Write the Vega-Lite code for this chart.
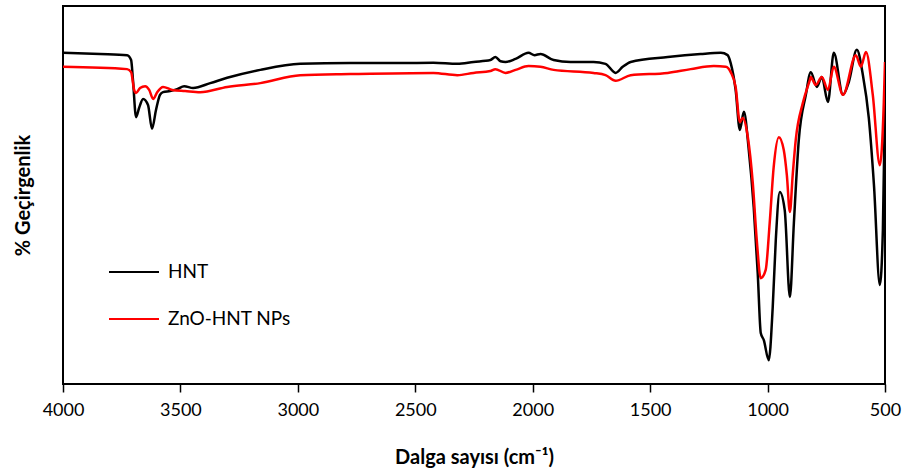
{
  "$schema": "https://vega.github.io/schema/vega-lite/v6.json",
  "width": 822,
  "height": 378,
  "autosize": {"type": "none"},
  "padding": {"left": 63, "top": 6, "right": 22, "bottom": 90},
  "config": {
    "view": {"stroke": "black", "strokeWidth": 2},
    "font": "Lato",
    "axis": {"grid": false}
  },
  "data": {
    "values": [
      {"wn": 4000, "T": 87.6, "s": "HNT"},
      {"wn": 3842, "T": 87.3, "s": "HNT"},
      {"wn": 3727, "T": 87.0, "s": "HNT"},
      {"wn": 3710, "T": 85.7, "s": "HNT"},
      {"wn": 3702, "T": 80.4, "s": "HNT"},
      {"wn": 3689, "T": 70.6, "s": "HNT"},
      {"wn": 3676, "T": 73.0, "s": "HNT"},
      {"wn": 3659, "T": 75.4, "s": "HNT"},
      {"wn": 3638, "T": 73.8, "s": "HNT"},
      {"wn": 3621, "T": 67.5, "s": "HNT"},
      {"wn": 3604, "T": 72.5, "s": "HNT"},
      {"wn": 3587, "T": 76.5, "s": "HNT"},
      {"wn": 3574, "T": 77.2, "s": "HNT"},
      {"wn": 3544, "T": 77.5, "s": "HNT"},
      {"wn": 3514, "T": 78.0, "s": "HNT"},
      {"wn": 3484, "T": 78.8, "s": "HNT"},
      {"wn": 3446, "T": 78.3, "s": "HNT"},
      {"wn": 3373, "T": 79.6, "s": "HNT"},
      {"wn": 3301, "T": 81.0, "s": "HNT"},
      {"wn": 3160, "T": 83.1, "s": "HNT"},
      {"wn": 2990, "T": 84.7, "s": "HNT"},
      {"wn": 2777, "T": 84.9, "s": "HNT"},
      {"wn": 2564, "T": 84.9, "s": "HNT"},
      {"wn": 2423, "T": 85.0, "s": "HNT"},
      {"wn": 2321, "T": 84.7, "s": "HNT"},
      {"wn": 2252, "T": 85.2, "s": "HNT"},
      {"wn": 2180, "T": 85.7, "s": "HNT"},
      {"wn": 2159, "T": 86.5, "s": "HNT"},
      {"wn": 2137, "T": 85.4, "s": "HNT"},
      {"wn": 2116, "T": 85.2, "s": "HNT"},
      {"wn": 2073, "T": 86.0, "s": "HNT"},
      {"wn": 2018, "T": 87.6, "s": "HNT"},
      {"wn": 1992, "T": 87.0, "s": "HNT"},
      {"wn": 1967, "T": 87.3, "s": "HNT"},
      {"wn": 1911, "T": 85.7, "s": "HNT"},
      {"wn": 1839, "T": 85.2, "s": "HNT"},
      {"wn": 1741, "T": 85.2, "s": "HNT"},
      {"wn": 1690, "T": 84.7, "s": "HNT"},
      {"wn": 1647, "T": 82.3, "s": "HNT"},
      {"wn": 1617, "T": 83.9, "s": "HNT"},
      {"wn": 1583, "T": 85.2, "s": "HNT"},
      {"wn": 1425, "T": 86.5, "s": "HNT"},
      {"wn": 1285, "T": 87.3, "s": "HNT"},
      {"wn": 1199, "T": 87.6, "s": "HNT"},
      {"wn": 1170, "T": 87.0, "s": "HNT"},
      {"wn": 1157, "T": 84.9, "s": "HNT"},
      {"wn": 1136, "T": 77.8, "s": "HNT"},
      {"wn": 1118, "T": 67.2, "s": "HNT"},
      {"wn": 1101, "T": 72.0, "s": "HNT"},
      {"wn": 1080, "T": 61.9, "s": "HNT"},
      {"wn": 1059, "T": 46.8, "s": "HNT"},
      {"wn": 1042, "T": 29.4, "s": "HNT"},
      {"wn": 1029, "T": 13.5, "s": "HNT"},
      {"wn": 1016, "T": 11.6, "s": "HNT"},
      {"wn": 995, "T": 6.3, "s": "HNT"},
      {"wn": 978, "T": 20.4, "s": "HNT"},
      {"wn": 965, "T": 38.1, "s": "HNT"},
      {"wn": 948, "T": 50.8, "s": "HNT"},
      {"wn": 927, "T": 46.0, "s": "HNT"},
      {"wn": 905, "T": 23.0, "s": "HNT"},
      {"wn": 888, "T": 42.6, "s": "HNT"},
      {"wn": 867, "T": 64.6, "s": "HNT"},
      {"wn": 837, "T": 76.5, "s": "HNT"},
      {"wn": 816, "T": 82.5, "s": "HNT"},
      {"wn": 790, "T": 78.6, "s": "HNT"},
      {"wn": 769, "T": 81.2, "s": "HNT"},
      {"wn": 743, "T": 74.6, "s": "HNT"},
      {"wn": 718, "T": 87.6, "s": "HNT"},
      {"wn": 679, "T": 76.5, "s": "HNT"},
      {"wn": 654, "T": 79.9, "s": "HNT"},
      {"wn": 620, "T": 88.4, "s": "HNT"},
      {"wn": 594, "T": 81.7, "s": "HNT"},
      {"wn": 569, "T": 70.4, "s": "HNT"},
      {"wn": 547, "T": 52.6, "s": "HNT"},
      {"wn": 522, "T": 26.2, "s": "HNT"},
      {"wn": 509, "T": 40.7, "s": "HNT"},
      {"wn": 500, "T": 75.0, "s": "HNT"},
      {"wn": 4000, "T": 83.9, "s": "ZnO-HNT NPs"},
      {"wn": 3727, "T": 83.3, "s": "ZnO-HNT NPs"},
      {"wn": 3710, "T": 82.5, "s": "ZnO-HNT NPs"},
      {"wn": 3697, "T": 77.8, "s": "ZnO-HNT NPs"},
      {"wn": 3689, "T": 77.0, "s": "ZnO-HNT NPs"},
      {"wn": 3672, "T": 78.3, "s": "ZnO-HNT NPs"},
      {"wn": 3650, "T": 78.8, "s": "ZnO-HNT NPs"},
      {"wn": 3633, "T": 77.8, "s": "ZnO-HNT NPs"},
      {"wn": 3616, "T": 75.4, "s": "ZnO-HNT NPs"},
      {"wn": 3599, "T": 77.2, "s": "ZnO-HNT NPs"},
      {"wn": 3574, "T": 78.6, "s": "ZnO-HNT NPs"},
      {"wn": 3535, "T": 77.8, "s": "ZnO-HNT NPs"},
      {"wn": 3480, "T": 77.5, "s": "ZnO-HNT NPs"},
      {"wn": 3416, "T": 77.2, "s": "ZnO-HNT NPs"},
      {"wn": 3301, "T": 78.6, "s": "ZnO-HNT NPs"},
      {"wn": 3160, "T": 79.6, "s": "ZnO-HNT NPs"},
      {"wn": 2990, "T": 81.7, "s": "ZnO-HNT NPs"},
      {"wn": 2777, "T": 82.0, "s": "ZnO-HNT NPs"},
      {"wn": 2423, "T": 82.3, "s": "ZnO-HNT NPs"},
      {"wn": 2321, "T": 81.7, "s": "ZnO-HNT NPs"},
      {"wn": 2252, "T": 82.3, "s": "ZnO-HNT NPs"},
      {"wn": 2180, "T": 82.8, "s": "ZnO-HNT NPs"},
      {"wn": 2159, "T": 83.3, "s": "ZnO-HNT NPs"},
      {"wn": 2116, "T": 82.3, "s": "ZnO-HNT NPs"},
      {"wn": 2073, "T": 83.1, "s": "ZnO-HNT NPs"},
      {"wn": 2018, "T": 84.1, "s": "ZnO-HNT NPs"},
      {"wn": 1967, "T": 83.9, "s": "ZnO-HNT NPs"},
      {"wn": 1911, "T": 83.1, "s": "ZnO-HNT NPs"},
      {"wn": 1741, "T": 82.3, "s": "ZnO-HNT NPs"},
      {"wn": 1690, "T": 81.7, "s": "ZnO-HNT NPs"},
      {"wn": 1647, "T": 80.2, "s": "ZnO-HNT NPs"},
      {"wn": 1583, "T": 81.7, "s": "ZnO-HNT NPs"},
      {"wn": 1425, "T": 82.3, "s": "ZnO-HNT NPs"},
      {"wn": 1327, "T": 83.3, "s": "ZnO-HNT NPs"},
      {"wn": 1229, "T": 84.1, "s": "ZnO-HNT NPs"},
      {"wn": 1178, "T": 83.9, "s": "ZnO-HNT NPs"},
      {"wn": 1157, "T": 82.5, "s": "ZnO-HNT NPs"},
      {"wn": 1136, "T": 78.6, "s": "ZnO-HNT NPs"},
      {"wn": 1118, "T": 69.3, "s": "ZnO-HNT NPs"},
      {"wn": 1106, "T": 70.4, "s": "ZnO-HNT NPs"},
      {"wn": 1084, "T": 65.3, "s": "ZnO-HNT NPs"},
      {"wn": 1063, "T": 53.2, "s": "ZnO-HNT NPs"},
      {"wn": 1046, "T": 38.1, "s": "ZnO-HNT NPs"},
      {"wn": 1029, "T": 28.0, "s": "ZnO-HNT NPs"},
      {"wn": 1008, "T": 30.2, "s": "ZnO-HNT NPs"},
      {"wn": 991, "T": 42.6, "s": "ZnO-HNT NPs"},
      {"wn": 974, "T": 57.4, "s": "ZnO-HNT NPs"},
      {"wn": 952, "T": 65.3, "s": "ZnO-HNT NPs"},
      {"wn": 931, "T": 61.9, "s": "ZnO-HNT NPs"},
      {"wn": 918, "T": 55.3, "s": "ZnO-HNT NPs"},
      {"wn": 905, "T": 45.5, "s": "ZnO-HNT NPs"},
      {"wn": 893, "T": 55.3, "s": "ZnO-HNT NPs"},
      {"wn": 880, "T": 64.6, "s": "ZnO-HNT NPs"},
      {"wn": 850, "T": 74.3, "s": "ZnO-HNT NPs"},
      {"wn": 820, "T": 80.4, "s": "ZnO-HNT NPs"},
      {"wn": 816, "T": 81.2, "s": "ZnO-HNT NPs"},
      {"wn": 795, "T": 79.1, "s": "ZnO-HNT NPs"},
      {"wn": 769, "T": 81.2, "s": "ZnO-HNT NPs"},
      {"wn": 743, "T": 77.8, "s": "ZnO-HNT NPs"},
      {"wn": 718, "T": 83.9, "s": "ZnO-HNT NPs"},
      {"wn": 679, "T": 76.5, "s": "ZnO-HNT NPs"},
      {"wn": 624, "T": 87.0, "s": "ZnO-HNT NPs"},
      {"wn": 603, "T": 83.9, "s": "ZnO-HNT NPs"},
      {"wn": 581, "T": 87.8, "s": "ZnO-HNT NPs"},
      {"wn": 552, "T": 76.5, "s": "ZnO-HNT NPs"},
      {"wn": 522, "T": 57.9, "s": "ZnO-HNT NPs"},
      {"wn": 505, "T": 74.6, "s": "ZnO-HNT NPs"},
      {"wn": 500, "T": 85.2, "s": "ZnO-HNT NPs"}
    ]
  },
  "mark": {"type": "line", "strokeWidth": 2.5, "interpolate": "monotone", "clip": true},
  "encoding": {
    "x": {
      "field": "wn",
      "type": "quantitative",
      "scale": {"domain": [500, 4000], "reverse": true, "nice": false, "zero": false},
      "axis": {
        "values": [4000, 3500, 3000, 2500, 2000, 1500, 1000, 500],
        "format": "d",
        "title": "Dalga sayısı (cm⁻¹)",
        "titleFontSize": 20,
        "titleFontWeight": "bold",
        "titleColor": "black",
        "titlePadding": 28,
        "labelFontSize": 18,
        "labelColor": "black",
        "labelPadding": 9,
        "labelFlush": false,
        "domain": false,
        "tickColor": "black",
        "tickSize": 8,
        "tickWidth": 1.5
      }
    },
    "y": {
      "field": "T",
      "type": "quantitative",
      "scale": {"domain": [0, 100], "nice": false},
      "axis": {
        "title": "% Geçirgenlik",
        "titleFontSize": 20,
        "titleFontWeight": "bold",
        "titleColor": "black",
        "titlePadding": 30,
        "labels": false,
        "ticks": false,
        "domain": false
      }
    },
    "color": {
      "field": "s",
      "type": "nominal",
      "scale": {"domain": ["HNT", "ZnO-HNT NPs"], "range": ["black", "red"]},
      "legend": {
        "title": null,
        "orient": "none",
        "legendX": 45,
        "legendY": 240,
        "symbolType": "stroke",
        "symbolSize": 2500,
        "symbolStrokeWidth": 2,
        "labelFontSize": 19,
        "labelColor": "black",
        "labelOffset": 8,
        "rowPadding": 11
      }
    }
  }
}
